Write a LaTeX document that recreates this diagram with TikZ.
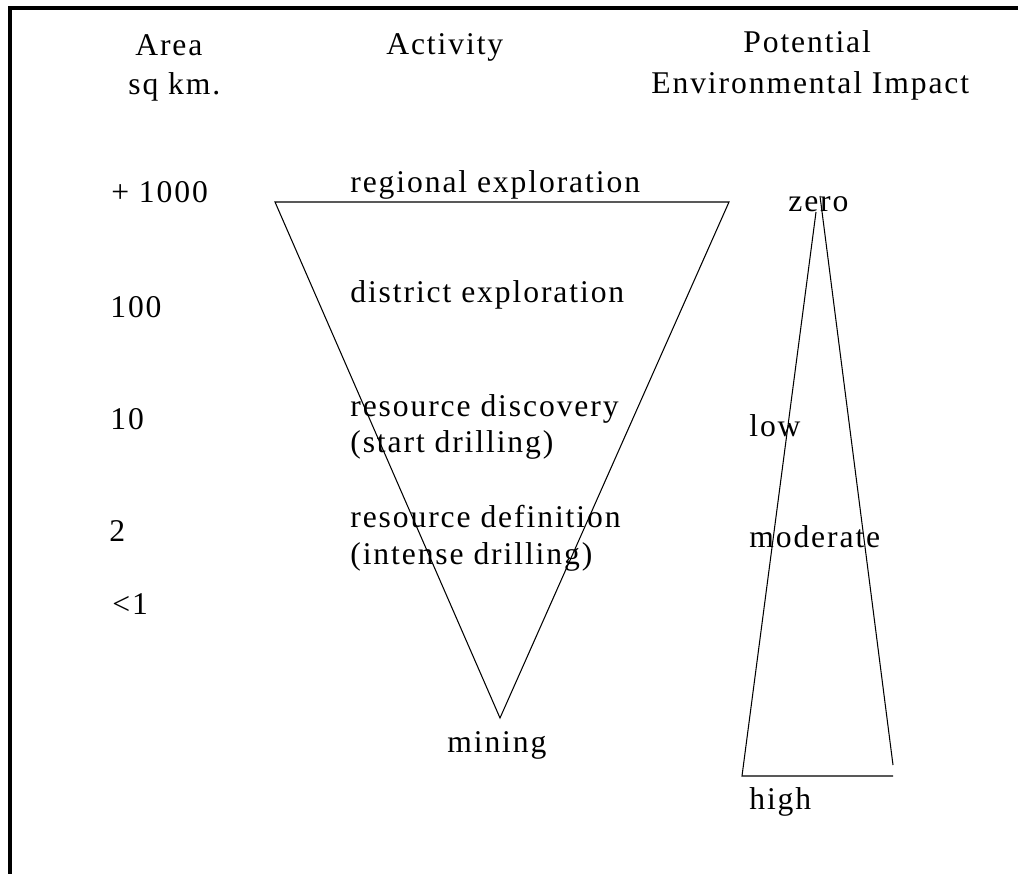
\documentclass[tikz,border=0pt]{standalone}
\usepackage{fontspec}
\setmainfont{Liberation Serif}[LetterSpace=6]
\usetikzlibrary{calc}

\tikzset{
  lbl/.style={anchor=base west, inner sep=0pt, font=\fontsize{18}{22}\selectfont},
  thinline/.style={black, line width=0.6pt},
  frameline/.style={black, line width=2pt}
}

\begin{document}
\begin{tikzpicture}[x=0.02cm, y=-0.02cm]
\useasboundingbox (0,0) rectangle (1018,874);
\draw[frameline] (10,874)--(10,8)--(1018,8);

\node[lbl] (area) at (135,56) {Area};
\node[lbl] (sqkm) at (128,95) {sq km.};
\node[lbl] (activity) at (386,55) {Activity};
\node[lbl] (potential) at (743,53) {Potential};
\node[lbl] (envimpact) at (651,94) {Environmental Impact};

\node[lbl] (a1000) at (111,203) {+ 1000};
\node[lbl] (a100) at (110,318) {100};
\node[lbl] (a10) at (110,430) {10};
\node[lbl] (a2) at (109,542) {2};
\node[lbl] (a1) at (112,615) {<1};

\coordinate (TL) at (275,202);
\coordinate (TR) at (729,202);
\coordinate (TB) at (500,718);
\draw[thinline] (TL)--(TR)--(TB)--cycle;

\node[lbl] (regional) at (350,193) {regional exploration};
\node[lbl] (district) at (350,303) {district exploration};
\node[lbl] (discovery) at (350,417) {resource discovery};
\node[lbl] (startdr) at (350,453) {(start drilling)};
\node[lbl] (definition) at (350,528) {resource definition};
\node[lbl] (intensedr) at (350,565) {(intense drilling)};
\node[lbl] (mining) at (447,752) {mining};

\coordinate (IL) at (742,776);
\coordinate (ILtop) at (816,212);
\coordinate (IRtop) at (820,196);
\coordinate (IR) at (893,765);
\coordinate (IRbase) at (893,776);
\draw[thinline] (ILtop)--(IL)--(IRbase);
\draw[thinline] (IRtop)--(IR);

\node[lbl] (zero) at (788,212) {zero};
\node[lbl] (low) at (749,437) {low};
\node[lbl] (moderate) at (749,548) {moderate};
\node[lbl] (high) at (749,809) {high};
\end{tikzpicture}
\end{document}
